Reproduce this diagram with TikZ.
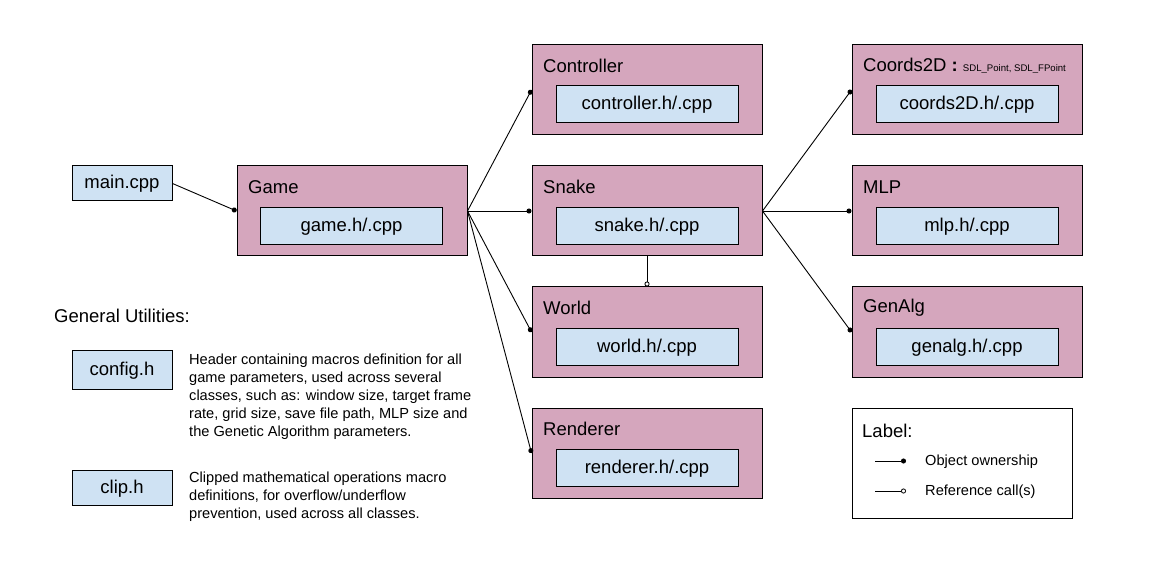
\documentclass[tikz,border=0pt]{standalone}
\usepackage{fontspec}
\setmainfont{Liberation Sans}
\usetikzlibrary{arrows.meta,positioning}
\definecolor{pinkfill}{HTML}{D5A6BD}
\definecolor{bluefill}{HTML}{CFE2F3}
\begin{document}
\begin{tikzpicture}[x=1pt,y=-1pt,
  big/.style={font=\fontsize{18.5}{22}\selectfont},
  outerbox/.style={draw=black,line width=1pt,fill=pinkfill,minimum width=230pt,minimum height=90pt,inner sep=0pt},
  innerbox/.style={draw=black,line width=1pt,fill=bluefill,minimum width=182pt,minimum height=37pt,inner sep=0pt,big,text height=13pt,text depth=2pt},
  filebox/.style={draw=black,line width=1pt,fill=bluefill,minimum width=100pt,inner sep=0pt,big,text height=13pt,text depth=2pt},
  boxtitle/.style={anchor=west,inner sep=0pt,big},
  desc/.style={anchor=north west,inner sep=0pt,align=left,font=\fontsize{14.6}{18}\selectfont},
  conn/.style={line width=0.9pt,-{Circle[length=5pt]}},
  refconn/.style={line width=0.9pt,-{Circle[open,length=5pt,line width=0.8pt]}}
]
\useasboundingbox (0,0) rectangle (1167,569);
\fill[white] (0,0) rectangle (1167,569);

% left file boxes
\node[filebox,minimum height=35pt] (main) at (122,183.5) {main.cpp};
\node[filebox,minimum height=39pt] (config) at (122,369.5) {config.h};
\node[filebox,minimum height=35pt] (clip) at (122,487.5) {clip.h};

\node[anchor=west,inner sep=0pt,big] (gu) at (54,316) {General Utilities:};
\node[desc] (configdesc) at (189,354) {Header containing macros definition for all\\game parameters, used across several\\classes, such as: window size, target frame\\rate, grid size, save file path, MLP size and\\the Genetic Algorithm parameters.};
\node[desc] (clipdesc) at (189,472) {Clipped mathematical operations macro\\definitions, for overflow/underflow\\prevention, used across all classes.};

% class boxes
\node[outerbox] (game) at (352,211) {};
\node[innerbox] (gamef) at (351.5,226) {game.h/.cpp};
\node[boxtitle] (gamet) at (248,187) {Game};

\node[outerbox] (ctrl) at (647,90) {};
\node[innerbox] (ctrlf) at (647,104) {controller.h/.cpp};
\node[boxtitle] (ctrlt) at (543,66) {Controller};

\node[outerbox] (snake) at (647,211) {};
\node[innerbox] (snakef) at (647,226) {snake.h/.cpp};
\node[boxtitle] (snaket) at (543,187) {Snake};

\node[outerbox] (world) at (647,332) {};
\node[innerbox] (worldf) at (647,347) {world.h/.cpp};
\node[boxtitle] (worldt) at (543,308) {World};

\node[outerbox] (rend) at (647,453) {};
\node[innerbox] (rendf) at (647,468) {renderer.h/.cpp};
\node[boxtitle] (rendt) at (543,429) {Renderer};

\node[outerbox] (coords) at (967,90) {};
\node[innerbox] (coordsf) at (967,104) {coords2D.h/.cpp};
\node[boxtitle] (coordst) at (863,66) {Coords2D {\bfseries :} {\fontsize{9.6}{10}\selectfont SDL\_Point, SDL\_FPoint}};

\node[outerbox] (mlp) at (967,211) {};
\node[innerbox] (mlpf) at (967,226) {mlp.h/.cpp};
\node[boxtitle] (mlpt) at (863,187) {MLP};

\node[outerbox] (gen) at (967,332) {};
\node[innerbox] (genf) at (967,347) {genalg.h/.cpp};
\node[boxtitle] (gent) at (863,308) {GenAlg};

% legend
\node[draw=black,line width=1pt,fill=white,minimum width=220pt,minimum height=110pt,inner sep=0pt] (legend) at (962,463) {};
\node[boxtitle] (legendt) at (862,431) {Label:};
\coordinate (l1a) at (875,461);
\coordinate (l1b) at (906,461);
\coordinate (l2a) at (875,491);
\coordinate (l2b) at (906,491);
\draw[conn] (l1a) -- (l1b);
\draw[refconn] (l2a) -- (l2b);
\node[anchor=west,inner sep=0pt,font=\fontsize{14.6}{18}\selectfont] (own) at (925,462) {Object ownership};
\node[anchor=west,inner sep=0pt,font=\fontsize{14.6}{18}\selectfont] (ref) at (925,492) {Reference call(s)};

% connectors
\draw[conn] (main.east) -- (game.west);
\draw[conn] (game.east) -- (ctrl.west);
\draw[conn] (game.east) -- (snake.west);
\draw[conn] (game.east) -- (world.west);
\draw[conn] (game.east) -- (rend.west);
\draw[refconn] (snake.south) -- (world.north);
\draw[conn] (snake.east) -- (coords.west);
\draw[conn] (snake.east) -- (mlp.west);
\draw[conn] (snake.east) -- (gen.west);
\end{tikzpicture}
\end{document}
